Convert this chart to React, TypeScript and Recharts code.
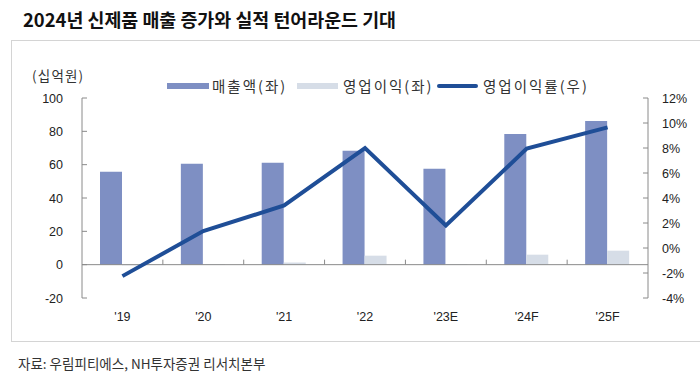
import React from "react";
import { ComposedChart, Bar, Line, XAxis, YAxis, ReferenceLine } from "recharts";

// ---- data ----
const categories = ["'19", "'20", "'21", "'22", "'23E", "'24F", "'25F"];
const salesValues = [55.8, 60.6, 61.1, 68.4, 57.6, 78.4, 86.2];
const opProfitValues = [-0.4, 0.4, 1.3, 5.4, 0.4, 6.0, 8.4];
const opMarginValues = [-2.25, 1.35, 3.4, 8.0, 1.8, 7.95, 9.65];
const leftTicks = [-20, 0, 20, 40, 60, 80, 100];
const rightTicks = [-4, -2, 0, 2, 4, 6, 8, 10, 12];
const seriesNames = ["매출액(좌)", "영업이익(좌)", "영업이익률(우)"];

const data = categories.map((c, i) => ({
  cat: c,
  sales: salesValues[i],
  op: opProfitValues[i],
  margin: opMarginValues[i],
}));

// ---- styles ----
const W = 700;
const H = 391;
const PLOT_LEFT = 82;
const PLOT_RIGHT = 648;
const PLOT_TOP = 98;
const PLOT_BOTTOM = 298;
const X_AXIS_H = 20;
const AXIS = "#8a8a8a";
const SALES = "#7e8fc3";
const OP = "#d6dde7";
const MARGIN = "#1f4e97";
const TXT = "#222";
const NUM_FONT = "'Liberation Sans', Arial, sans-serif";
const KR_FONT = "'Noto Sans CJK KR', 'Noto Sans', sans-serif";

const LEFT_MIN = leftTicks[0];
const LEFT_MAX = leftTicks[leftTicks.length - 1];
const zeroY = PLOT_TOP + ((LEFT_MAX - 0) / (LEFT_MAX - LEFT_MIN)) * (PLOT_BOTTOM - PLOT_TOP);
const bandW = (PLOT_RIGHT - PLOT_LEFT) / categories.length;

const LeftTick = (props: any) => {
  const { x, y, payload } = props;
  return (
    <g>
      <line x1={x} x2={x + 5} y1={y} y2={y} stroke={AXIS} />
      <text x={x - 19} y={y} dy="0.36em" textAnchor="end" fontSize={12.5} fontFamily={NUM_FONT} fill={TXT}>
        {payload.value}
      </text>
    </g>
  );
};

const RightTick = (props: any) => {
  const { x, y, payload } = props;
  return (
    <g>
      <line x1={x - 5} x2={x} y1={y} y2={y} stroke={AXIS} />
      <text x={x + 14} y={y} dy="0.36em" textAnchor="start" fontSize={12.5} fontFamily={NUM_FONT} fill={TXT}>
        {`${payload.value}%`}
      </text>
    </g>
  );
};

const XTick = (props: any) => {
  const { x, payload, index } = props;
  return (
    <g>
      {index > 0 && (
        <line x1={x - bandW / 2} x2={x - bandW / 2} y1={zeroY - 5} y2={zeroY} stroke={AXIS} />
      )}
      <text x={x} y={PLOT_BOTTOM + 18} dy="0.36em" textAnchor="middle" fontSize={12.5} fontFamily={NUM_FONT} fill={TXT}>
        {payload.value}
      </text>
    </g>
  );
};

const legendText: React.CSSProperties = {
  position: "absolute",
  top: 0,
  fontFamily: KR_FONT,
  fontSize: 14.5,
  letterSpacing: 2,
  color: "#333",
  lineHeight: "16px",
  whiteSpace: "nowrap",
};

export default function App() {
  return (
    <div
      style={{
        position: "absolute",
        left: 0,
        top: 0,
        width: W,
        height: H,
        background: "#fff",
        overflow: "hidden",
      }}
    >
      <div
        style={{
          position: "absolute",
          left: 23,
          top: 8,
          fontFamily: KR_FONT,
          fontWeight: 700,
          fontSize: 18.4,
          lineHeight: "22px",
          color: "#111",
          whiteSpace: "nowrap",
        }}
      >
        2024년 신제품 매출 증가와 실적 턴어라운드 기대
      </div>
      <div
        style={{
          position: "absolute",
          left: 11,
          top: 40,
          width: 720,
          height: 302,
          border: "1px solid #d4d4d4",
          boxSizing: "border-box",
        }}
      />
      <div
        style={{
          position: "absolute",
          left: 32,
          top: 67,
          fontFamily: KR_FONT,
          fontSize: 13.5,
          letterSpacing: 1.2,
          lineHeight: "16px",
          color: "#333",
          whiteSpace: "nowrap",
        }}
      >
        (십억원)
      </div>
      <div style={{ position: "absolute", left: 0, top: 0 }}>
        <ComposedChart
          width={W}
          height={H}
          data={data}
          margin={{ top: PLOT_TOP, right: W - PLOT_RIGHT - 50, bottom: H - PLOT_BOTTOM - X_AXIS_H, left: PLOT_LEFT - 60 }}
          barGap={0}
        >
          <XAxis
            dataKey="cat"
            height={X_AXIS_H}
            axisLine={false}
            tickLine={false}
            tick={<XTick />}
            interval={0}
          />
          <YAxis
            yAxisId="left"
            orientation="left"
            width={60}
            domain={[LEFT_MIN, LEFT_MAX]}
            ticks={leftTicks}
            interval={0}
            axisLine={{ stroke: AXIS }}
            tickLine={false}
            tickSize={0}
            tickMargin={0}
            tick={<LeftTick />}
          />
          <YAxis
            yAxisId="right"
            orientation="right"
            width={50}
            domain={[rightTicks[0], rightTicks[rightTicks.length - 1]]}
            ticks={rightTicks}
            interval={0}
            axisLine={{ stroke: AXIS }}
            tickLine={false}
            tickSize={0}
            tickMargin={0}
            tick={<RightTick />}
          />
          <Bar yAxisId="left" dataKey="sales" name={seriesNames[0]} fill={SALES} barSize={22} isAnimationActive={false} />
          <Bar yAxisId="left" dataKey="op" name={seriesNames[1]} fill={OP} barSize={22} isAnimationActive={false} />
          <ReferenceLine yAxisId="left" y={0} stroke={AXIS} />
          <Line
            yAxisId="right"
            dataKey="margin"
            name={seriesNames[2]}
            type="linear"
            stroke={MARGIN}
            strokeWidth={4}
            dot={false}
            activeDot={false}
            isAnimationActive={false}
          />
        </ComposedChart>
      </div>
      <div style={{ position: "absolute", left: 0, top: 78, width: W, height: 16 }}>
        <div style={{ position: "absolute", left: 167, top: 5, width: 42, height: 6, background: SALES }} />
        <div style={{ ...legendText, left: 212 }}>{seriesNames[0]}</div>
        <div style={{ position: "absolute", left: 297, top: 5, width: 41, height: 6, background: OP }} />
        <div style={{ ...legendText, left: 343 }}>{seriesNames[1]}</div>
        <div style={{ position: "absolute", left: 437, top: 6, width: 41, height: 4, background: MARGIN, borderRadius: 2 }} />
        <div style={{ ...legendText, left: 483 }}>{seriesNames[2]}</div>
      </div>
      <div
        style={{
          position: "absolute",
          left: 18,
          top: 355,
          fontFamily: KR_FONT,
          fontSize: 13.5,
          lineHeight: "16px",
          color: "#333",
          whiteSpace: "nowrap",
        }}
      >
        자료: 우림피티에스, NH투자증권 리서치본부
      </div>
    </div>
  );
}
